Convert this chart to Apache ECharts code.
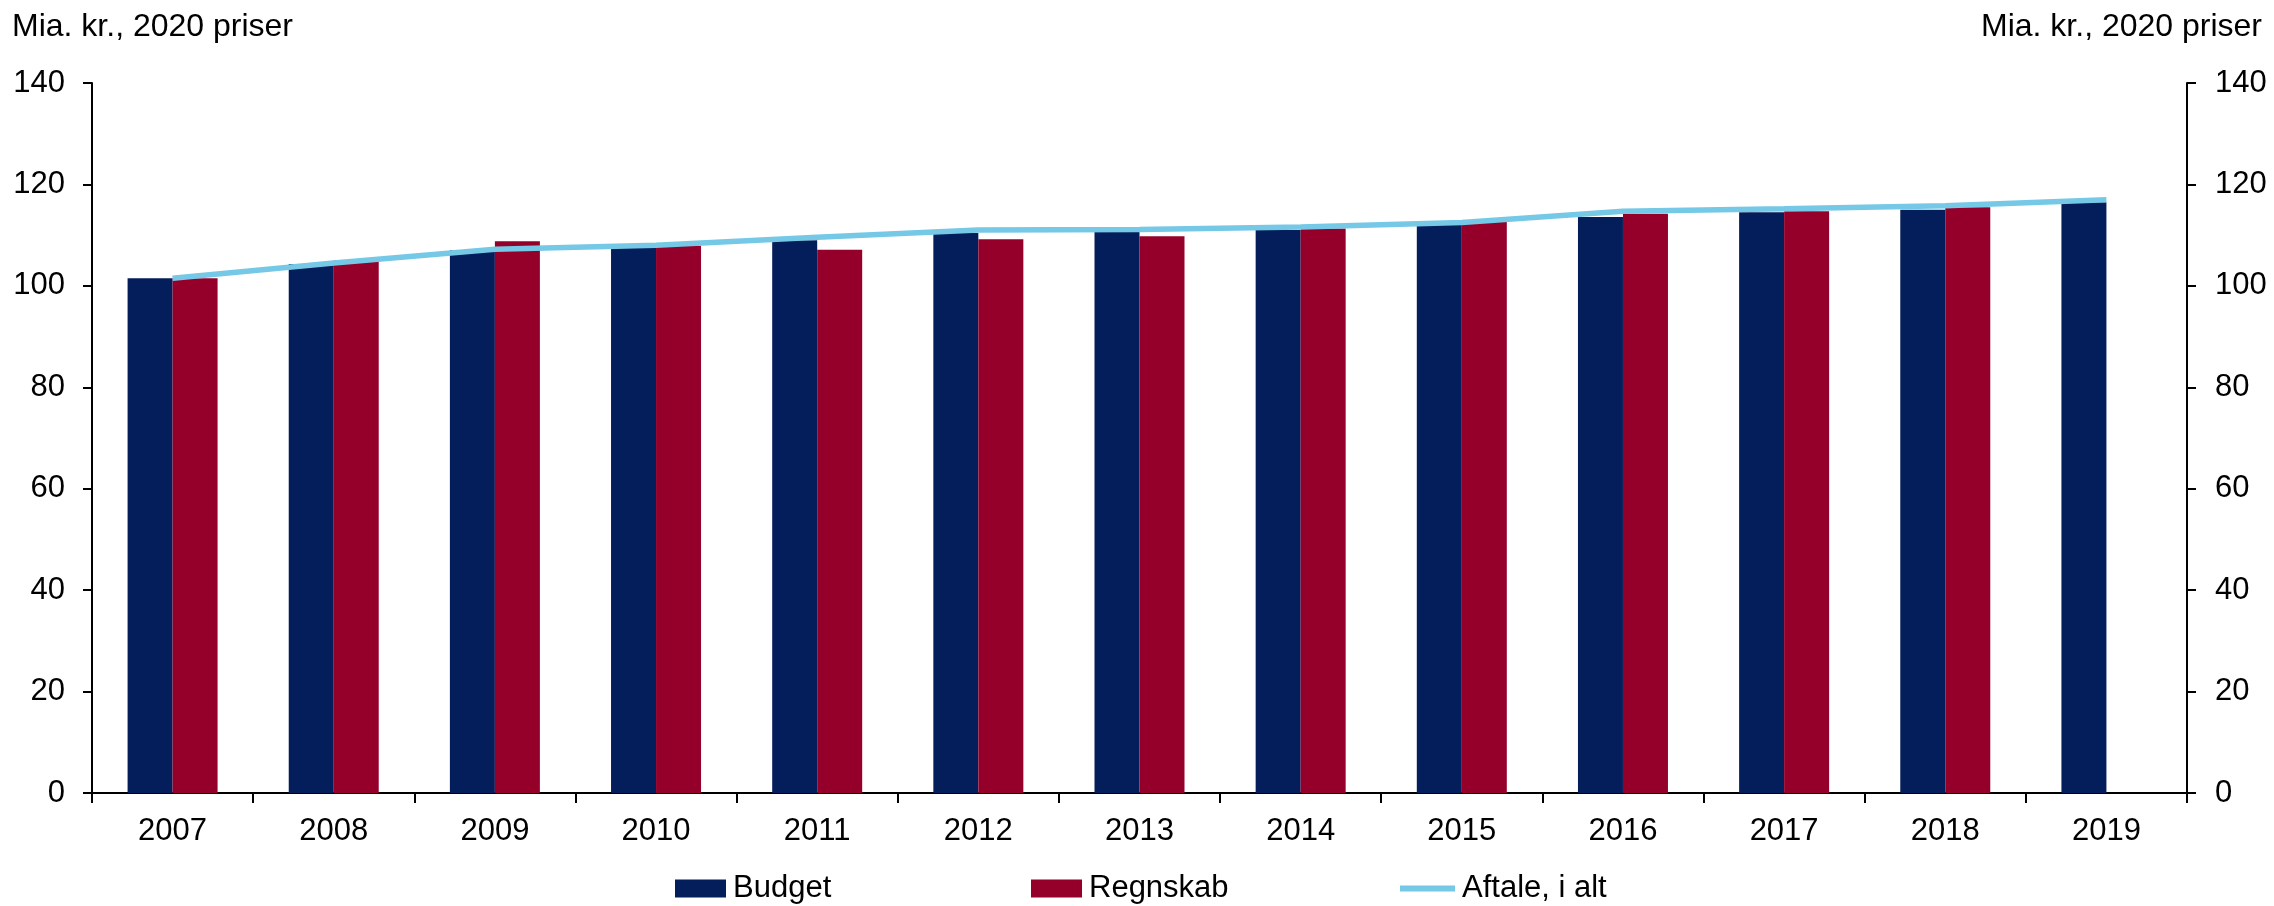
<!DOCTYPE html>
<html>
<head>
<meta charset="utf-8">
<script src="https://cdn.jsdelivr.net/npm/echarts@6/dist/echarts.min.js"></script>
<style>
  html, body { margin: 0; padding: 0; background: #ffffff; }
  #chart { width: 2274px; height: 906px; }
</style>
</head>
<body>
<div id="chart"></div>
<script>
// Years on the category axis
const years = ['2007','2008','2009','2010','2011','2012','2013','2014','2015','2016','2017','2018','2019'];
// Mia. kr., 2020 priser
const budget   = [101.5, 104.3, 107.0, 107.5, 109.0, 110.4, 110.6, 111.0, 112.0, 113.6, 114.5, 115.0, 116.5];
const regnskab = [101.5, 105.0, 108.8, 107.9, 107.1, 109.2, 109.8, 111.3, 112.6, 114.2, 114.7, 115.5, null];
const aftale   = [101.5, 104.5, 107.2, 108.0, 109.6, 111.0, 111.1, 111.6, 112.5, 114.7, 115.2, 115.8, 117.0];
const unitLabel = 'Mia. kr., 2020 priser';

const FONT = "'Liberation Sans', Arial, sans-serif";
const NAVY = '#041E5B';
const RED = '#95002B';
const SKY = '#75C8E6';

const chart = echarts.init(document.getElementById('chart'), null, { renderer: 'canvas' });

const valueAxis = (pos, margin) => ({
  type: 'value',
  position: pos,
  min: 0, max: 140, interval: 20,
  splitLine: { show: false },
  axisLine: { show: true, lineStyle: { color: '#000', width: 2 } },
  axisTick: { show: true, length: 9, lineStyle: { color: '#000', width: 2 } },
  axisLabel: { color: '#000', fontFamily: FONT, fontSize: 31, margin: margin }
});

const legendBase = {
  top: 868,
  itemGap: 0,
  textStyle: { color: '#000', fontFamily: FONT, fontSize: 31, padding: [0, 0, 0, 2] }
};

chart.setOption({
  animation: false,
  backgroundColor: '#ffffff',
  textStyle: { fontFamily: FONT },
  graphic: [
    { type: 'text', left: 12, top: 11, style: { text: unitLabel, fill: '#000', font: '32px ' + FONT } },
    { type: 'text', right: 12, top: 11, style: { text: unitLabel, fill: '#000', font: '32px ' + FONT, textAlign: 'right' } }
  ],
  grid: { left: 92, right: 87, top: 83, bottom: 113, containLabel: false },
  legend: [
    Object.assign({}, legendBase, { left: 670, data: ['Budget'], itemWidth: 51, itemHeight: 18, icon: 'rect' }),
    Object.assign({}, legendBase, { left: 1026, data: ['Regnskab'], itemWidth: 51, itemHeight: 18, icon: 'rect' }),
    Object.assign({}, legendBase, { left: 1395, data: ['Aftale, i alt'], itemWidth: 55, itemHeight: 6, icon: 'rect' })
  ],
  xAxis: {
    type: 'category',
    data: years,
    boundaryGap: true,
    axisLine: { show: true, lineStyle: { color: '#000', width: 2 } },
    axisTick: { show: true, alignWithLabel: false, length: 10, lineStyle: { color: '#000', width: 2 } },
    axisLabel: { color: '#000', fontFamily: FONT, fontSize: 31, margin: 23 }
  },
  yAxis: [valueAxis('left', 27), valueAxis('right', 28)],
  series: [
    {
      name: 'Budget', type: 'bar', data: budget,
      barWidth: 45, barGap: '0%',
      itemStyle: { color: NAVY }
    },
    {
      name: 'Regnskab', type: 'bar', data: regnskab,
      barWidth: 45, barGap: '0%',
      itemStyle: { color: RED }
    },
    {
      name: 'Aftale, i alt', type: 'line', data: aftale,
      symbol: 'none',
      lineStyle: { color: SKY, width: 5.5 },
      itemStyle: { color: SKY },
      z: 5
    }
  ]
});
</script>
</body>
</html>
